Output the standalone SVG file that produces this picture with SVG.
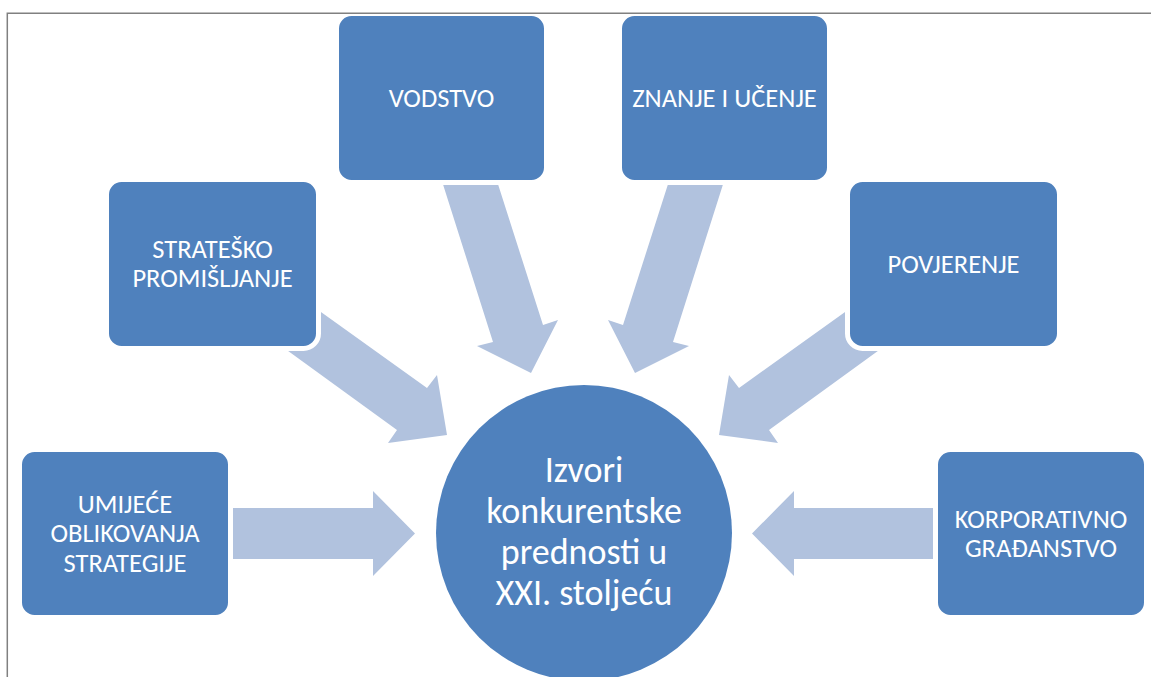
<svg xmlns="http://www.w3.org/2000/svg" width="1151" height="677" viewBox="0 0 1151 677">
<style>
  .box { fill: #4F81BD; stroke: #FFFFFF; stroke-width: 5; }
  .arrow { fill: #B1C2DE; stroke: none; }
  .hub { fill: #4F81BD; stroke: none; }
  .lbl { font-family: Carlito, Lato, "Liberation Sans", sans-serif; font-size: 26.5px; fill: #FFFFFF; text-anchor: middle; }
  .hubtxt { font-family: Carlito, Lato, "Liberation Sans", sans-serif; font-size: 36px; fill: #FFFFFF; text-anchor: middle; }
  .frame { stroke: #808080; stroke-width: 1.5; fill: none; }
</style>
<rect x="0" y="0" width="1151" height="677" fill="#FFFFFF"/>
<g id="connectors">
  <polygon class="arrow" points="434,156 489,156 543,325 558,320 531,373 477,346 493,342"/>
  <polygon class="arrow" points="732,156 677,156 623,325 608,320 635,373 689,346 673,342"/>
  <polygon class="arrow" points="288.5,288.7 427,388 437,375 447,435 388,443 397,430 257.5,328.7"/>
  <polygon class="arrow" points="877.5,288.7 739,388 729,375 719,435 778,443 769,430 908.5,328.7"/>
  <polygon class="arrow" points="200,508 373,508 373,491 415,533.5 373,576 373,559 200,559"/>
  <polygon class="arrow" points="960,508 794,508 794,491 752,533.5 794,576 794,559 960,559"/>
</g>
<g id="node-hub">
  <circle class="hub" cx="584" cy="533" r="148"/>
  <text class="hubtxt" x="584" y="482">Izvori</text>
  <text class="hubtxt" x="584" y="523">konkurentske</text>
  <text class="hubtxt" x="584" y="564">prednosti u</text>
  <text class="hubtxt" x="584" y="605">XXI. stoljeću</text>
</g>
<g id="node-vodstvo">
  <rect class="box" x="336.5" y="13.5" width="210" height="169" rx="15"/>
  <text class="lbl" x="441.5" y="106.5">VODSTVO</text>
</g>
<g id="node-znanje">
  <rect class="box" x="619.5" y="13.5" width="210" height="169" rx="15"/>
  <text class="lbl" x="724.5" y="106.5">ZNANJE I UČENJE</text>
</g>
<g id="node-stratesko">
  <rect class="box" x="106.5" y="179.5" width="212" height="169" rx="15"/>
  <text class="lbl" x="212.5" y="258">STRATEŠKO</text>
  <text class="lbl" x="212.5" y="287">PROMIŠLJANJE</text>
</g>
<g id="node-povjerenje">
  <rect class="box" x="847.5" y="179.5" width="212" height="169" rx="15"/>
  <text class="lbl" x="953.5" y="272.5">POVJERENJE</text>
</g>
<g id="node-umijece">
  <rect class="box" x="19.5" y="449.5" width="211" height="168" rx="15"/>
  <text class="lbl" x="125" y="512.5">UMIJEĆE</text>
  <text class="lbl" x="125" y="542">OBLIKOVANJA</text>
  <text class="lbl" x="125" y="571.5">STRATEGIJE</text>
</g>
<g id="node-korporativno">
  <rect class="box" x="935.5" y="449.5" width="211" height="168" rx="15"/>
  <text class="lbl" x="1041" y="527.5">KORPORATIVNO</text>
  <text class="lbl" x="1041" y="556.5">GRAĐANSTVO</text>
</g>
<g id="frame">
  <polyline class="frame" points="7.3,677 7.3,13.3 1151,13.3"/>
</g>
</svg>
